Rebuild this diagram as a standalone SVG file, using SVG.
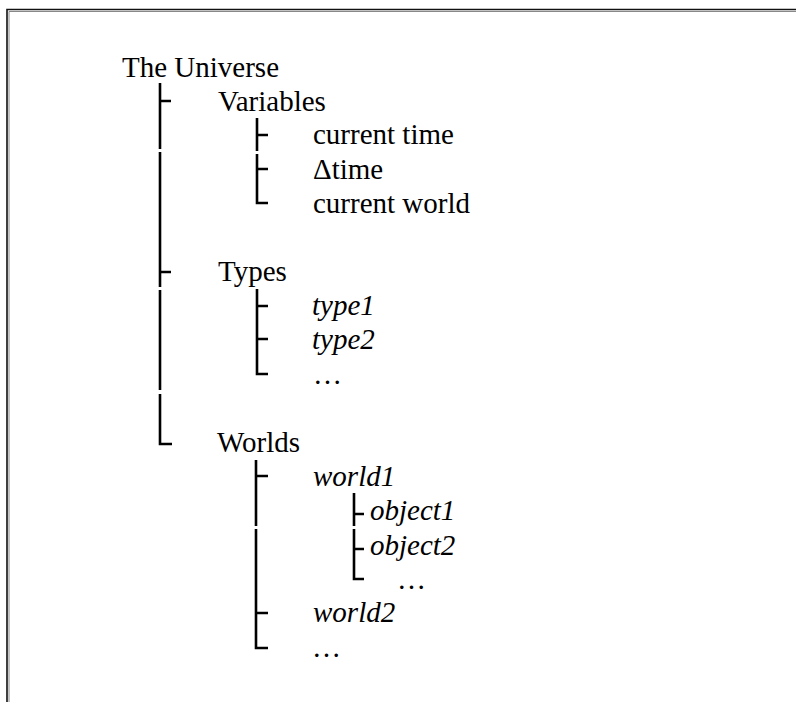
<svg xmlns="http://www.w3.org/2000/svg" width="796" height="702" viewBox="0 0 796 702">
<style>
text{font-family:"Liberation Serif","Times New Roman",serif;font-size:29px;fill:#000}
.it{font-style:italic}
.ln{stroke:#000;stroke-width:2.6;fill:none}
.b1{stroke:#111;stroke-width:1.6;fill:none}
.b2{stroke:#888;stroke-width:1;fill:none}
</style>
<rect width="796" height="702" fill="#fff"/>
<g id="frame">
<path class="b1" d="M7 702V9.5H796"/>
<path class="b2" d="M9 702V11.5H796"/>
</g>
<g id="connectors">
<path class="ln" d="M160 83V149M160 152V287M160 290V390M160 394V444H172M160 101H171M160 272H171"/>
<path class="ln" d="M257 118V151M257 154V203H268M257 135H268M257 169H268"/>
<path class="ln" d="M257 289V374H268M257 306H268M257 339H268"/>
<path class="ln" d="M256 460V526M256 529V648H268M256 476H268M256 613H268"/>
<path class="ln" d="M354 493V526M354 529V579H364M354 514H364M354 549H364"/>
</g>
<g id="n-universe"><text x="122" y="77">The Universe</text></g>
<g id="n-variables"><text x="218" y="111">Variables</text></g>
<g id="n-currenttime"><text x="313" y="144">current time</text></g>
<g id="n-deltatime"><text x="313" y="179">Δtime</text></g>
<g id="n-currentworld"><text x="313" y="213">current world</text></g>
<g id="n-types"><text x="218" y="281">Types</text></g>
<g id="n-type1"><text class="it" x="312" y="315">type1</text></g>
<g id="n-type2"><text class="it" x="312" y="349">type2</text></g>
<g id="n-typesmore"><text x="313" y="384">…</text></g>
<g id="n-worlds"><text x="217" y="452">Worlds</text></g>
<g id="n-world1"><text class="it" x="313" y="486">world1</text></g>
<g id="n-object1"><text class="it" x="370" y="520">object1</text></g>
<g id="n-object2"><text class="it" x="370" y="555">object2</text></g>
<g id="n-objectsmore"><text x="397" y="589">…</text></g>
<g id="n-world2"><text class="it" x="313" y="622">world2</text></g>
<g id="n-worldsmore"><text x="312" y="657">…</text></g>
</svg>
